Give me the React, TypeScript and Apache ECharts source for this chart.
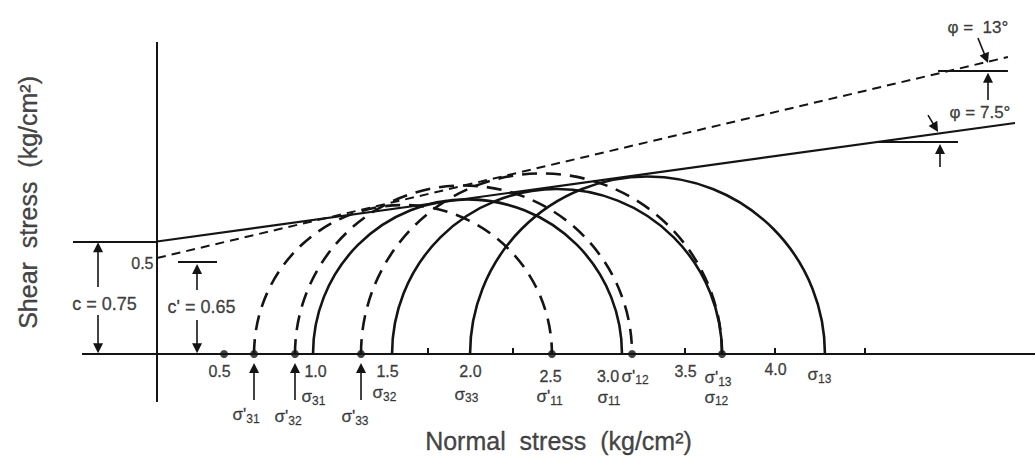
import React, { useEffect, useRef } from "react";
import * as echarts from "echarts";

// ---------- data (stress units) ----------
// total-stress Mohr circles (solid)
const SIGMA3_TOTAL = [1.04, 1.567, 2.087];
const SIGMA1_TOTAL = [3.1, 3.767, 4.453];
// effective-stress Mohr circles (dashed)
const SIGMA3_EFF = [0.647, 0.92, 1.36];
const SIGMA1_EFF = [2.633, 3.167, 3.767];
// failure envelopes
const TOTAL_ENVELOPE = [[0, 0.75], [5.72, 1.54]];
const EFFECTIVE_ENVELOPE = [[0, 0.64], [5.673, 1.98]];
// tick labels along the normal-stress axis
const TICK_LABELS = ["0.5", "1.0", "1.5", "2.0", "2.5", "3.0", "3.5", "4.0"];
const TICK_LABEL_X = [0.42, 1.06, 1.54, 2.093, 2.627, 3.01, 3.527, 4.127];
const TICK_LABEL_Y = [-0.12, -0.12, -0.12, -0.12, -0.153, -0.153, -0.12, -0.107];
const MINOR_TICKS = [1.807, 2.373, 3.52, 4.12, 4.72];
const AXIS_DOTS = [0.447, 0.647, 0.92, 1.36, 2.633, 3.167, 3.767];
// sigma labels
const SIGMA_NAMES = ["σ'", "σ", "σ'", "σ'", "σ", "σ", "σ", "σ'", "σ'", "σ", "σ'", "σ"];
const SIGMA_SUBS = ["31", "31", "32", "33", "32", "33", "11", "11", "12", "12", "13", "13"];
const SIGMA_X = [0.507, 0.967, 0.787, 1.233, 1.44, 1.987, 2.94, 2.533, 3.1, 3.653, 3.653, 4.34];
const SIGMA_Y = [-0.407, -0.287, -0.42, -0.42, -0.26, -0.273, -0.293, -0.287, -0.153, -0.293, -0.16, -0.14];
// cohesion / friction annotations
const C_TOTAL = 0.75;
const C_EFF_MARK = 0.613;
const PHI_TOTAL_LEVEL = 1.413;
const PHI_EFF_LEVEL = 1.887;

// ---------- layout (pixel mapping: 150 px per stress unit) ----------
const W = 1035;
const H = 457;
const PX = 150;
const X_MIN = -157 / PX;
const X_MAX = (W - 157) / PX;
const Y_MIN = -(H - 354) / PX;
const Y_MAX = 354 / PX;
const FONT = "'Liberation Sans', Arial, Helvetica, sans-serif";
const INK = "#141414";

const shorten = (from: number[], to: number[], px: number) => {
  const dx = to[0] - from[0];
  const dy = to[1] - from[1];
  const len = Math.hypot(dx, dy);
  const k = px / PX / len;
  return [to[0] - dx * k, to[1] - dy * k];
};

export default function App() {
  const ref = useRef<HTMLDivElement>(null);

  useEffect(() => {
    if (!ref.current) return;
    const chart = echarts.init(ref.current, undefined, { renderer: "svg" });

    const arcSeries = (s3: number[], s1: number[], dash: number[] | null) => ({
      type: "custom",
      coordinateSystem: "cartesian2d",
      silent: true,
      data: s3.map((v, i) => [v, s1[i]]),
      encode: { x: [0, 1] },
      renderItem: (params: any, api: any) => {
        const p3 = api.coord([api.value(0), 0]);
        const p1 = api.coord([api.value(1), 0]);
        return {
          type: "arc",
          shape: {
            cx: (p3[0] + p1[0]) / 2,
            cy: p3[1],
            r: (p1[0] - p3[0]) / 2,
            startAngle: Math.PI,
            endAngle: Math.PI * 2,
            clockwise: true,
          },
          style: { stroke: INK, lineWidth: 2.6, fill: null, lineDash: dash || undefined },
        };
      },
    });

    const segments: number[][][] = [
      [[X_MIN + 82 / PX, 0], [X_MAX, 0]], // normal stress axis
      [[0, -0.32], [0, 2.08]], // shear stress axis
      [[-0.56, C_TOTAL], [0, C_TOTAL]], // c level
      [[0.14, C_EFF_MARK], [0.4, C_EFF_MARK]], // c' mark
      [[4.807, PHI_TOTAL_LEVEL], [5.34, PHI_TOTAL_LEVEL]],
      [[5.207, PHI_EFF_LEVEL], [5.673, PHI_EFF_LEVEL]],
      ...MINOR_TICKS.map((x) => [[x, 0], [x, 0.04]]),
    ];

    const arrows: number[][][] = [
      [[-0.393, 0.447], [-0.393, 0.745]],
      [[-0.393, 0.26], [-0.393, 0.005]],
      [[0.267, 0.427], [0.267, 0.6]],
      [[0.267, 0.227], [0.267, 0.005]],
      ...SIGMA3_EFF.map((x) => [[x, -0.307], [x, -0.06]]),
      [[5.14, 1.593], [5.207, 1.48]],
      [[5.22, 1.247], [5.22, 1.4]],
      [[5.473, 2.107], [5.54, 1.94]],
      [[5.54, 1.693], [5.54, 1.875]],
    ];

    const textPoint = (x: number, y: number, formatter: string, opts: any = {}) => ({
      value: [x, y],
      label: {
        show: true,
        position: [0, 0],
        formatter,
        color: INK,
        fontFamily: FONT,
        align: opts.align || "center",
        verticalAlign: "middle",
        fontSize: opts.fontSize || 16,
        rotate: opts.rotate || 0,
        textBorderColor: INK,
        textBorderWidth: 0.35,
        rich: opts.rich,
      },
    });

    const sigmaRich = {
      m: { fontSize: 17, fontFamily: FONT, color: INK, lineHeight: 20, textBorderColor: INK, textBorderWidth: 0.35 },
      s: {
        fontSize: 12,
        fontFamily: FONT,
        color: INK,
        lineHeight: 13,
        verticalAlign: "bottom",
        textBorderColor: INK,
        textBorderWidth: 0.3,
      },
    };

    const texts = [
      ...TICK_LABELS.map((t, i) => textPoint(TICK_LABEL_X[i], TICK_LABEL_Y[i], t, { fontSize: 16 })),
      ...SIGMA_NAMES.map((n, i) =>
        textPoint(SIGMA_X[i], SIGMA_Y[i], `{m|${n}}{s|${SIGMA_SUBS[i]}}`, { align: "left", rich: sigmaRich })
      ),
      textPoint(-0.347, 0.327, "c = 0.75", { fontSize: 18 }),
      textPoint(0.3, 0.307, "c' = 0.65", { fontSize: 18 }),
      textPoint(-0.02, 0.6, "0.5", { fontSize: 16, align: "right" }),
      textPoint(5.287, 1.607, "φ = 7.5°", { fontSize: 17, align: "left" }),
      textPoint(5.273, 2.173, "φ =  13°", { fontSize: 17, align: "left" }),
      textPoint(-0.86, 1.007, "Shear  stress  (kg/cm²)", { fontSize: 25, rotate: 90 }),
      textPoint(2.68, -0.58, "Normal  stress  (kg/cm²)", { fontSize: 25 }),
    ];

    chart.setOption({
      animation: false,
      backgroundColor: "#ffffff",
      grid: { left: 0, right: 0, top: 0, bottom: 0, containLabel: false },
      xAxis: { type: "value", min: X_MIN, max: X_MAX, show: false },
      yAxis: { type: "value", min: Y_MIN, max: Y_MAX, show: false },
      series: [
        {
          type: "lines",
          coordinateSystem: "cartesian2d",
          silent: true,
          symbol: "none",
          lineStyle: { color: INK, width: 2, opacity: 1 },
          data: segments.map((c) => ({ coords: c })),
        },
        {
          type: "lines",
          coordinateSystem: "cartesian2d",
          silent: true,
          symbol: ["none", "triangle"],
          symbolSize: 10,
          lineStyle: { color: INK, width: 1.6, opacity: 1 },
          data: arrows.map(([a, b]) => ({ coords: [a, shorten(a, b, 5)] })),
        },
        {
          type: "line",
          silent: true,
          showSymbol: false,
          data: TOTAL_ENVELOPE,
          lineStyle: { color: INK, width: 2.2 },
        },
        {
          type: "line",
          silent: true,
          showSymbol: false,
          data: EFFECTIVE_ENVELOPE,
          lineStyle: { color: INK, width: 2, type: [9, 6] },
        },
        arcSeries(SIGMA3_TOTAL, SIGMA1_TOTAL, null),
        arcSeries(SIGMA3_EFF, SIGMA1_EFF, [15, 9]),
        {
          type: "scatter",
          silent: true,
          symbol: "circle",
          symbolSize: 8,
          itemStyle: { color: INK },
          data: AXIS_DOTS.map((x) => [x, 0]),
        },
        {
          type: "scatter",
          silent: true,
          symbolSize: 1,
          itemStyle: { color: "rgba(0,0,0,0)" },
          data: texts,
        },
      ],
    });

    return () => chart.dispose();
  }, []);

  return (
    <div
      ref={ref}
      style={{ position: "absolute", left: 0, top: 0, width: W, height: H, background: "#fff" }}
    />
  );
}
